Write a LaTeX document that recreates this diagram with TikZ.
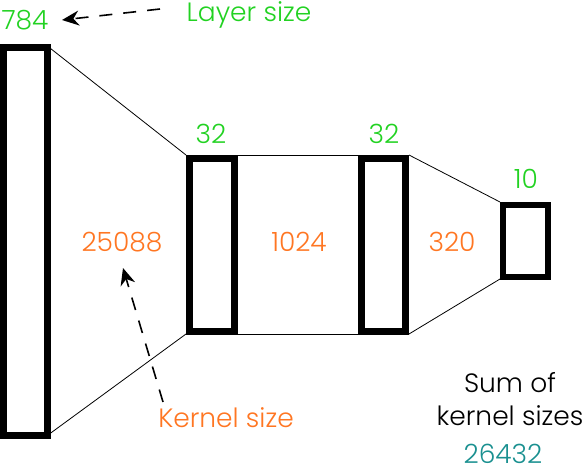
\documentclass[tikz,border=0pt]{standalone}
\usepackage{fontspec}
\setmainfont{Poppins}[UprightFont=* Light]
\usetikzlibrary{arrows.meta}
\definecolor{lgreen}{RGB}{34,210,34}
\definecolor{lorange}{RGB}{255,118,34}
\definecolor{lteal}{RGB}{26,144,144}
\tikzset{
  layer/.style={draw=black,line width=7pt,fill=white},
  conn/.style={draw=black,line width=0.8pt},
  lbl/.style={font=\fontsize{26.5}{30}\selectfont,inner sep=0pt,anchor=base},
  gtext/.style={lbl,text=lgreen},
  otext/.style={lbl,text=lorange},
  ktext/.style={lbl,text=black},
  ttext/.style={lbl,text=lteal},
  note/.style={draw=black,line width=1.6pt,dash pattern=on 13pt off 11pt,-{Stealth[length=17pt,width=15pt]}}
}
\begin{document}
\begin{tikzpicture}[x=1pt,y=-1pt]
\useasboundingbox (0,0) rectangle (586,467);
% connectors first (behind)
\coordinate (b1tr) at (48,46.5);
\coordinate (b1br) at (48,435);
\coordinate (b2tl) at (186,155);
\coordinate (b2bl) at (186,334);
\coordinate (b2tr) at (238,155);
\coordinate (b2br) at (238,334);
\coordinate (b3tl) at (358,155);
\coordinate (b3bl) at (358,334);
\coordinate (b3tr) at (409,155);
\coordinate (b3br) at (409,334);
\coordinate (b4tl) at (500,202);
\coordinate (b4bl) at (500,279);
\draw[conn] (b1tr) -- (b2tl);
\draw[conn] (b1br) -- (b2bl);
\draw[conn] (b2tr) -- (b3tl);
\draw[conn] (b2br) -- (b3bl);
\draw[conn] (b3tr) -- (b4tl);
\draw[conn] (b3br) -- (b4bl);
% layers
\path[layer] (3.5,47) rectangle (47.5,435);
\path[layer] (189.5,158) rectangle (234.5,331.5);
\path[layer] (361.5,158) rectangle (405.5,331.5);
\draw[black,line width=6pt,fill=white] (503,205) rectangle (548,277);
% layer sizes
\node[gtext] (l1) at (25,29) {784};
\node[gtext] (l2) at (211,143) {32};
\node[gtext] (l3) at (384,143) {32};
\node[gtext] (l4) at (526,188) {10};
\node[gtext] (ls) at (249,21) {Layer size};
% kernel sizes
\node[otext] (k1) at (122,251) {25088};
\node[otext] (k2) at (299,251) {1024};
\node[otext] (k3) at (452,251) {320};
\node[otext] (ks) at (226,427) {Kernel size};
% sum
\node[ktext] (s1) at (510,392) {Sum of};
\node[ktext] (s2) at (510,425) {kernel sizes};
\node[ttext,text depth=0pt] (s3) at (503,463) {26432};
% annotation arrows
\coordinate (a1s) at (160,9);
\coordinate (a1e) at (62,20);
\coordinate (a2s) at (163,402);
\coordinate (a2e) at (123,268);
\draw[note] (a1s) -- (a1e);
\draw[note] (a2s) -- (a2e);
\end{tikzpicture}
\end{document}
